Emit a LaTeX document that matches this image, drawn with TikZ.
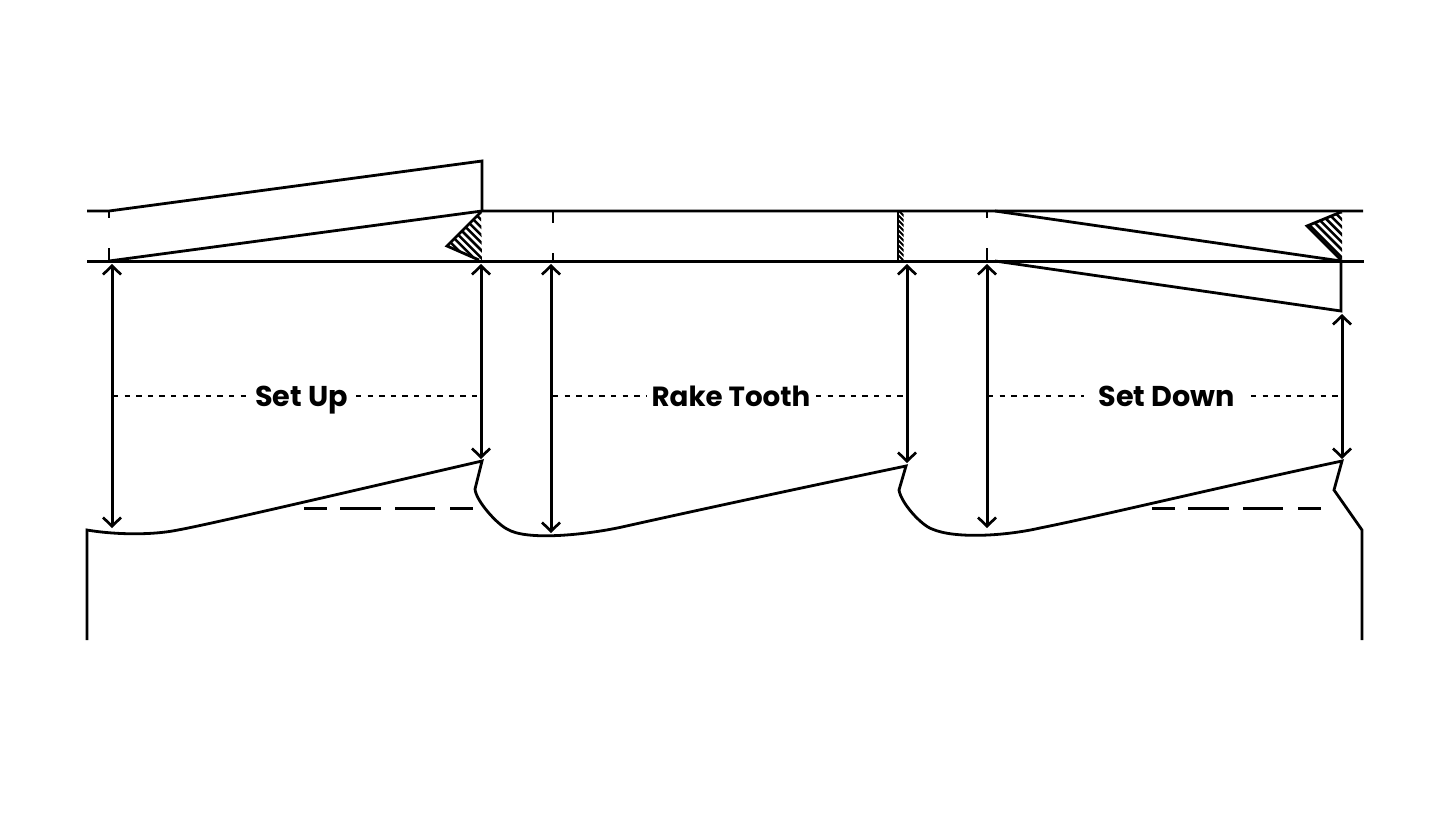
\documentclass[tikz,border=0pt]{standalone}
\usepackage{fontspec}
\setmainfont{Poppins}
\usetikzlibrary{arrows.meta}
\tikzset{
  ln/.style={line width=2.1pt,line join=miter,black},
  thinln/.style={line width=1.9pt,black},
  dim/.style={line width=2.25pt,black,{Straight Barb[length=6.5pt,width=13.5pt,line width=2pt]}-{Straight Barb[length=6.5pt,width=13.5pt,line width=2pt]}},
  dots/.style={line width=2pt,dash pattern=on 4pt off 4.7pt,black},
  longdash/.style={line width=1.8pt,black,dash pattern=on 17pt off 10pt on 30.5pt off 11pt on 30pt off 11pt on 17pt off 100pt},
  lab/.style={font=\bfseries\fontsize{21.5pt}{24pt}\selectfont,inner sep=0pt,anchor=base},
  hatch/.style={line width=1.9pt,black}
}
\begin{document}
\begin{tikzpicture}[x=0.75pt,y=-0.75pt]
\useasboundingbox (0,0) rectangle (1431,832);
% reference points
\coordinate (tl) at (87,211); \coordinate (tr) at (1363,211);
\coordinate (bl) at (87,261); \coordinate (br) at (1364,261);
\coordinate (A) at (109,211); \coordinate (B) at (482,161); \coordinate (C) at (482,211);
\coordinate (D) at (109,261);
\coordinate (E) at (995,211); \coordinate (F) at (1341,261);
\coordinate (G) at (995,261); \coordinate (H) at (1341,311);
% horizontal rails and blades
\draw[ln] (tl) -- (A) -- (B) -- (C) -- (tr);
\draw[line width=2.25pt,black] (bl) -- (br);
\draw[ln] (D) -- (C);
\draw[ln] (E) -- (F) -- (H) -- (G);
% ticks
\draw[thinln] (109,211) -- (109,218) (109,248) -- (109,261);
\draw[thinln] (553,211) -- (553,223) (553,253) -- (553,261);
\draw[thinln] (987,211) -- (987,218) (987,248) -- (987,261);
% hatch left
\begin{scope}
\clip (481,212) -- (447,246) -- (479,260) -- (482,260) -- cycle;
\foreach \i in {0,...,10} \draw[hatch] (420,151+\i*7.6) -- ++(80,80);
\end{scope}
\draw[ln] (481,212) -- (447,246) -- (479,260);
% hatch right
\begin{scope}
\clip (1342,212) -- (1307,226) -- (1341,260) -- (1342,260) -- cycle;
\foreach \i in {0,...,8} \draw[hatch] (1280,150+\i*7.6) -- ++(80,80);
\end{scope}
\draw[ln] (1341,212) -- (1307,226) -- (1341,260);
% hatch centre
\begin{scope}
\clip (898,212) rectangle (903.5,260);
\foreach \i in {0,...,11} \draw[line width=1.5pt] (895,202+\i*5) -- ++(10,10);
\end{scope}
\draw[ln] (898,211) -- (898,261);
% tooth profile
\coordinate (P0) at (87,640); \coordinate (P1) at (87,530);
\coordinate (T1) at (482,461); \coordinate (G1) at (475,489);
\coordinate (T2) at (906,466); \coordinate (G2) at (899,490);
\coordinate (T3) at (1342,461); \coordinate (G3) at (1334,490);
\coordinate (P2) at (1362,530); \coordinate (P3) at (1362,640);
\draw[ln] (P0) -- (P1)
  .. controls (110,534) and (148,536) .. (178,530)
  .. controls (210,524) and (300,503) .. (T1)
  -- (G1)
  .. controls (476,501) and (497,524) .. (507,529)
  .. controls (526,541) and (585,535) .. (622,527)
  .. controls (680,514) and (800,488) .. (T2)
  -- (G2)
  .. controls (901,503) and (921,525) .. (932,529)
  .. controls (955,539) and (1005,536) .. (1040,528)
  .. controls (1100,516) and (1220,487) .. (T3)
  -- (G3) -- (P2) -- (P3);
% dashed lines
\coordinate (d1a) at (304,508.5); \coordinate (d1b) at (473,508.5);
\coordinate (d2a) at (1152,508.5); \coordinate (d2b) at (1321,508.5);
\draw[longdash] (d1a) -- (d1b);
\draw[longdash] (d2a) -- (d2b);
% dimension arrows
\coordinate (a1) at (112,264); \coordinate (a1e) at (112,528);
\coordinate (a2) at (481,264); \coordinate (a2e) at (481,459);
\coordinate (a3) at (551,264); \coordinate (a3e) at (551,533);
\coordinate (a4) at (907,264); \coordinate (a4e) at (907,463);
\coordinate (a5) at (987,264); \coordinate (a5e) at (987,528);
\coordinate (a6) at (1342,314); \coordinate (a6e) at (1342,459);
\draw[dim] (a1) -- (a1e);
\draw[dim] (a2) -- (a2e);
\draw[dim] (a3) -- (a3e);
\draw[dim] (a4) -- (a4e);
\draw[dim] (a5) -- (a5e);
\draw[dim] (a6) -- (a6e);
% labels
\node[lab] (setup) at (301.5,406) {Set Up};
\node[lab,font=\bfseries\fontsize{20.8pt}{24pt}\selectfont] (rake) at (731,406) {Rake Tooth};
\node[lab] (setdown) at (1166.5,406) {Set Down};
% dotted lines
\coordinate (s1) at (113,396); \coordinate (s2) at (246,396);
\coordinate (s3) at (356,396); \coordinate (s4) at (481,396);
\coordinate (s5) at (553,396); \coordinate (s6) at (647,396);
\coordinate (s7) at (816,396); \coordinate (s8) at (906,396);
\coordinate (s9) at (988,396); \coordinate (s10) at (1084,396);
\coordinate (s11) at (1251,396); \coordinate (s12) at (1341,396);
\draw[dots] (s1) -- (s2); \draw[dots] (s3) -- (s4);
\draw[dots] (s5) -- (s6); \draw[dots] (s7) -- (s8);
\draw[dots] (s9) -- (s10); \draw[dots] (s11) -- (s12);
\end{tikzpicture}
\end{document}
